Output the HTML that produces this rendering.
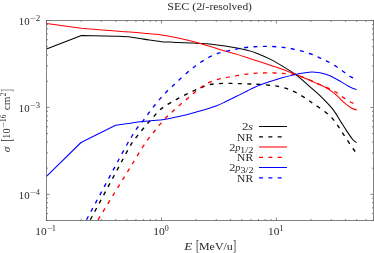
<!DOCTYPE html>
<html><head><meta charset="utf-8"><title>SEC</title>
<style>html,body{margin:0;padding:0;background:#fff;width:374px;height:253px;overflow:hidden;font-family:"Liberation Serif",serif}</style>
</head><body>
<svg width="374" height="253" viewBox="0 0 374 253" style="display:block;position:absolute;left:0;top:0">
<defs><clipPath id="clip"><rect x="46.5" y="20.5" width="327.0" height="200.0"/></clipPath></defs>
<rect x="0" y="0" width="374" height="253" fill="#fff"/>
<path d="M46.50,220.50L46.50,217.50M46.50,20.50L46.50,23.50M81.10,220.50L81.10,219.00M81.10,20.50L81.10,22.00M101.34,220.50L101.34,219.00M101.34,20.50L101.34,22.00M115.70,220.50L115.70,219.00M115.70,20.50L115.70,22.00M126.84,220.50L126.84,219.00M126.84,20.50L126.84,22.00M135.94,220.50L135.94,219.00M135.94,20.50L135.94,22.00M143.63,220.50L143.63,219.00M143.63,20.50L143.63,22.00M150.30,220.50L150.30,219.00M150.30,20.50L150.30,22.00M156.18,220.50L156.18,219.00M156.18,20.50L156.18,22.00M161.43,220.50L161.43,217.50M161.43,20.50L161.43,23.50M196.03,220.50L196.03,219.00M196.03,20.50L196.03,22.00M216.27,220.50L216.27,219.00M216.27,20.50L216.27,22.00M230.63,220.50L230.63,219.00M230.63,20.50L230.63,22.00M241.77,220.50L241.77,219.00M241.77,20.50L241.77,22.00M250.87,220.50L250.87,219.00M250.87,20.50L250.87,22.00M258.57,220.50L258.57,219.00M258.57,20.50L258.57,22.00M265.23,220.50L265.23,219.00M265.23,20.50L265.23,22.00M271.11,220.50L271.11,219.00M271.11,20.50L271.11,22.00M276.37,220.50L276.37,217.50M276.37,20.50L276.37,23.50M310.97,220.50L310.97,219.00M310.97,20.50L310.97,22.00M331.21,220.50L331.21,219.00M331.21,20.50L331.21,22.00M345.57,220.50L345.57,219.00M345.57,20.50L345.57,22.00M356.70,220.50L356.70,219.00M356.70,20.50L356.70,22.00M365.81,220.50L365.81,219.00M365.81,20.50L365.81,22.00M373.50,220.50L373.50,219.00M373.50,20.50L373.50,22.00M46.50,220.50L48.00,220.50M373.50,220.50L372.00,220.50M46.50,213.62L48.00,213.62M373.50,213.62L372.00,213.62M46.50,207.80L48.00,207.80M373.50,207.80L372.00,207.80M46.50,202.76L48.00,202.76M373.50,202.76L372.00,202.76M46.50,198.31L48.00,198.31M373.50,198.31L372.00,198.31M46.50,194.34L49.50,194.34M373.50,194.34L370.50,194.34M46.50,168.17L48.00,168.17M373.50,168.17L372.00,168.17M46.50,152.86L48.00,152.86M373.50,152.86L372.00,152.86M46.50,142.01L48.00,142.01M373.50,142.01L372.00,142.01M46.50,133.58L48.00,133.58M373.50,133.58L372.00,133.58M46.50,126.70L48.00,126.70M373.50,126.70L372.00,126.70M46.50,120.88L48.00,120.88M373.50,120.88L372.00,120.88M46.50,115.84L48.00,115.84M373.50,115.84L372.00,115.84M46.50,111.39L48.00,111.39M373.50,111.39L372.00,111.39M46.50,107.42L49.50,107.42M373.50,107.42L370.50,107.42M46.50,81.25L48.00,81.25M373.50,81.25L372.00,81.25M46.50,65.95L48.00,65.95M373.50,65.95L372.00,65.95M46.50,55.09L48.00,55.09M373.50,55.09L372.00,55.09M46.50,46.66L48.00,46.66M373.50,46.66L372.00,46.66M46.50,39.78L48.00,39.78M373.50,39.78L372.00,39.78M46.50,33.96L48.00,33.96M373.50,33.96L372.00,33.96M46.50,28.92L48.00,28.92M373.50,28.92L372.00,28.92M46.50,24.48L48.00,24.48M373.50,24.48L372.00,24.48M46.50,20.50L49.50,20.50M373.50,20.50L370.50,20.50" stroke="#333" stroke-width="0.6" fill="none"/>
<g clip-path="url(#clip)">
<path d="M46.50,48.90 L81.40,35.40 L116.00,36.20 C118.33,36.32 126.07,36.53 130.00,36.90 C133.93,37.27 136.38,37.87 139.60,38.40 C142.82,38.93 145.68,39.55 149.30,40.10 C152.92,40.65 157.83,41.37 161.30,41.70 C164.77,42.03 167.30,41.97 170.10,42.10 C172.90,42.23 174.78,42.37 178.10,42.50 C181.42,42.63 186.30,42.75 190.00,42.90 C193.70,43.05 196.07,43.10 200.30,43.40 C204.53,43.70 209.78,44.03 215.40,44.70 C221.02,45.37 228.90,46.52 234.00,47.40 C239.10,48.28 242.33,49.08 246.00,50.00 C249.67,50.92 251.65,51.22 256.00,52.90 C260.35,54.58 266.75,57.32 272.10,60.10 C277.45,62.88 284.22,67.25 288.10,69.60 C291.98,71.95 293.25,72.65 295.40,74.20 C297.55,75.75 299.07,77.23 301.00,78.90 C302.93,80.57 304.57,82.08 307.00,84.20 C309.43,86.32 312.88,89.17 315.60,91.60 C318.32,94.03 320.65,96.13 323.30,98.80 C325.95,101.47 329.30,104.97 331.50,107.60 C333.70,110.23 334.85,112.10 336.50,114.60 C338.15,117.10 339.65,119.80 341.40,122.60 C343.15,125.40 345.12,128.58 347.00,131.40 C348.88,134.22 351.10,137.63 352.70,139.50 C354.30,141.37 355.95,142.08 356.60,142.60" stroke="#000" stroke-width="1.05" fill="none" stroke-linejoin="round"/>
<path d="M90.30,219.80 L121.80,161.30 C123.32,158.52 128.45,148.65 130.90,144.60 C133.35,140.55 134.63,139.43 136.50,137.00 C138.37,134.57 140.15,132.37 142.10,130.00 C144.05,127.63 146.13,125.17 148.20,122.80 C150.27,120.43 152.52,117.97 154.50,115.80 C156.48,113.63 157.83,111.75 160.10,109.80 C162.37,107.85 165.43,105.80 168.10,104.10 C170.77,102.40 173.43,101.05 176.10,99.60 C178.77,98.15 181.30,96.80 184.10,95.40 C186.90,94.00 190.32,92.38 192.90,91.20 C195.48,90.02 197.08,89.35 199.60,88.30 C202.12,87.25 205.12,85.67 208.00,84.90 C210.88,84.13 213.55,83.95 216.90,83.70 C220.25,83.45 224.37,83.42 228.10,83.40 C231.83,83.38 235.57,83.50 239.30,83.60 C243.03,83.70 246.88,83.85 250.50,84.00 C254.12,84.15 257.07,84.22 261.00,84.50 C264.93,84.78 270.32,85.15 274.10,85.70 C277.88,86.25 280.63,86.93 283.70,87.80 C286.77,88.67 289.57,89.60 292.50,90.90 C295.43,92.20 298.62,94.03 301.30,95.60 C303.98,97.17 306.28,98.75 308.60,100.30 C310.92,101.85 312.53,103.03 315.20,104.90 C317.87,106.77 321.78,109.30 324.60,111.50 C327.42,113.70 330.00,115.88 332.10,118.10 C334.20,120.32 335.65,122.62 337.20,124.80 C338.75,126.98 339.77,128.72 341.40,131.20 C343.03,133.68 345.07,136.82 347.00,139.70 C348.93,142.58 351.38,146.20 353.00,148.50 C354.62,150.80 356.08,152.67 356.70,153.50" stroke="#000" stroke-width="1.35" fill="none" stroke-linejoin="round" stroke-dasharray="4 5.35"/>
<path d="M46.50,23.60 L81.20,28.30 C83.67,28.50 90.25,29.03 96.00,29.50 C101.75,29.97 110.03,30.67 115.70,31.10 C121.37,31.53 124.95,31.72 130.00,32.10 C135.05,32.48 140.78,32.93 146.00,33.40 C151.22,33.87 157.28,34.40 161.30,34.90 C165.32,35.40 167.30,35.88 170.10,36.40 C172.90,36.92 174.78,37.28 178.10,38.00 C181.42,38.72 186.15,39.73 190.00,40.70 C193.85,41.67 196.52,42.42 201.20,43.80 C205.88,45.18 212.63,47.37 218.10,49.00 C223.57,50.63 229.35,52.22 234.00,53.60 C238.65,54.98 241.82,55.98 246.00,57.30 C250.18,58.62 254.82,60.10 259.10,61.50 C263.38,62.90 267.50,64.30 271.70,65.70 C275.90,67.10 280.35,68.48 284.30,69.90 C288.25,71.32 291.22,72.50 295.40,74.20 C299.58,75.90 305.68,78.48 309.40,80.10 C313.12,81.72 315.05,82.70 317.70,83.90 C320.35,85.10 322.75,85.90 325.30,87.30 C327.85,88.70 330.88,90.75 333.00,92.30 C335.12,93.85 336.50,95.22 338.00,96.60 C339.50,97.98 340.50,99.22 342.00,100.60 C343.50,101.98 345.38,103.62 347.00,104.90 C348.62,106.18 350.07,107.47 351.70,108.30 C353.33,109.13 355.95,109.63 356.80,109.90" stroke="#f00" stroke-width="1.05" fill="none" stroke-linejoin="round"/>
<path d="M98.00,219.80 L133.20,162.50 C134.68,160.08 139.68,151.80 142.10,148.00 C144.52,144.20 145.83,142.27 147.70,139.70 C149.57,137.13 151.43,134.97 153.30,132.60 C155.17,130.23 156.88,127.90 158.90,125.50 C160.92,123.10 163.25,120.42 165.40,118.20 C167.55,115.98 169.62,114.22 171.80,112.20 C173.98,110.18 176.18,108.13 178.50,106.10 C180.82,104.07 183.30,102.03 185.70,100.00 C188.10,97.97 190.58,95.83 192.90,93.90 C195.22,91.97 197.08,90.23 199.60,88.40 C202.12,86.57 205.12,84.35 208.00,82.90 C210.88,81.45 213.95,80.58 216.90,79.70 C219.85,78.82 222.63,78.23 225.70,77.60 C228.77,76.97 232.10,76.45 235.30,75.90 C238.50,75.35 241.45,74.75 244.90,74.30 C248.35,73.85 251.48,73.43 256.00,73.20 C260.52,72.97 267.00,72.82 272.00,72.90 C277.00,72.98 281.87,73.33 286.00,73.70 C290.13,74.07 292.90,74.08 296.80,75.10 C300.70,76.12 305.53,78.23 309.40,79.80 C313.27,81.37 315.90,82.63 320.00,84.50 C324.10,86.37 330.43,89.05 334.00,91.00 C337.57,92.95 338.82,94.43 341.40,96.20 C343.98,97.97 346.97,100.17 349.50,101.60 C352.03,103.03 355.42,104.27 356.60,104.80" stroke="#f00" stroke-width="1.35" fill="none" stroke-linejoin="round" stroke-dasharray="4 5.35"/>
<path d="M46.50,176.30 L81.00,142.50 L115.60,125.20 L128.00,123.50 C130.35,123.18 138.00,122.08 142.10,121.60 C146.20,121.12 148.95,120.95 152.60,120.60 C156.25,120.25 159.43,120.23 164.00,119.50 C168.57,118.77 174.65,117.43 180.00,116.20 C185.35,114.97 191.60,113.30 196.10,112.10 C200.60,110.90 203.68,110.02 207.00,109.00 C210.32,107.98 213.17,107.08 216.00,106.00 C218.83,104.92 221.32,103.75 224.00,102.50 C226.68,101.25 229.43,99.82 232.10,98.50 C234.77,97.18 237.33,95.93 240.00,94.60 C242.67,93.27 244.77,92.08 248.10,90.50 C251.43,88.92 256.35,86.58 260.00,85.10 C263.65,83.62 266.32,82.82 270.00,81.60 C273.68,80.38 277.68,79.03 282.10,77.80 C286.52,76.57 292.68,75.03 296.50,74.20 C300.32,73.37 302.47,73.15 305.00,72.80 C307.53,72.45 309.53,72.15 311.70,72.10 C313.87,72.05 315.95,72.23 318.00,72.50 C320.05,72.77 322.00,73.15 324.00,73.70 C326.00,74.25 327.67,74.75 330.00,75.80 C332.33,76.85 335.32,78.48 338.00,80.00 C340.68,81.52 343.85,83.62 346.10,84.90 C348.35,86.18 349.75,86.93 351.50,87.70 C353.25,88.47 355.75,89.20 356.60,89.50" stroke="#00f" stroke-width="1.05" fill="none" stroke-linejoin="round"/>
<path d="M86.50,219.80 L117.90,161.30 C119.38,158.55 124.50,148.93 126.80,144.80 C129.10,140.67 130.08,139.15 131.70,136.50 C133.32,133.85 134.68,131.42 136.50,128.90 C138.32,126.38 140.75,123.78 142.60,121.40 C144.45,119.02 145.83,116.98 147.60,114.60 C149.37,112.22 151.32,109.52 153.20,107.10 C155.08,104.68 156.88,102.45 158.90,100.10 C160.92,97.75 163.10,95.28 165.30,93.00 C167.50,90.72 169.82,88.55 172.10,86.40 C174.38,84.25 175.75,83.02 179.00,80.10 C182.25,77.18 187.60,72.12 191.60,68.90 C195.60,65.68 198.85,63.30 203.00,60.80 C207.15,58.30 211.32,55.77 216.50,53.90 C221.68,52.03 229.18,50.67 234.10,49.60 C239.02,48.53 241.85,48.02 246.00,47.50 C250.15,46.98 254.67,46.67 259.00,46.50 C263.33,46.33 267.78,46.33 272.00,46.50 C276.22,46.67 280.17,46.95 284.30,47.50 C288.43,48.05 292.62,48.80 296.80,49.80 C300.98,50.80 305.73,52.23 309.40,53.50 C313.07,54.77 316.17,56.28 318.80,57.40 C321.43,58.52 322.52,58.83 325.20,60.20 C327.88,61.57 331.95,63.77 334.90,65.60 C337.85,67.43 340.37,69.40 342.90,71.20 C345.43,73.00 347.82,75.07 350.10,76.40 C352.38,77.73 355.52,78.73 356.60,79.20" stroke="#00f" stroke-width="1.35" fill="none" stroke-linejoin="round" stroke-dasharray="4 5.35"/>
</g>
<rect x="46.5" y="20.5" width="327.0" height="200.0" fill="none" stroke="#646464" stroke-width="0.8"/>
<path d="M259,126.5L287,126.5" stroke="#000" stroke-width="1.05" fill="none"/>
<path d="M259,136.8L287,136.8" stroke="#000" stroke-width="1.35" fill="none" stroke-dasharray="4 5.35"/>
<path d="M259,147.0L287,147.0" stroke="#f00" stroke-width="1.05" fill="none"/>
<path d="M259,157.3L287,157.3" stroke="#f00" stroke-width="1.35" fill="none" stroke-dasharray="4 5.35"/>
<path d="M259,167.5L287,167.5" stroke="#00f" stroke-width="1.05" fill="none"/>
<path d="M259,177.8L287,177.8" stroke="#00f" stroke-width="1.35" fill="none" stroke-dasharray="4 5.35"/>
<g id="txt" style="opacity:0.999">
<text transform="translate(167.20,10.00) scale(1.1371,1)" font-size="10.6" fill="#2a2a2a" style="font-family:'Liberation Serif',serif">SEC (2</text>
<text transform="translate(201.88,10.00) scale(0.9295,1)" font-size="10.6" font-style="italic" fill="#2a2a2a" style="font-family:'Liberation Serif',serif">l</text>
<text transform="translate(205.58,10.00) scale(1.0801,1)" font-size="10.6" fill="#2a2a2a" style="font-family:'Liberation Serif',serif">-resolved)</text>
<text transform="translate(18.77,24.80) scale(0.9424,1)" font-size="11.4" fill="#2a2a2a" style="font-family:'Liberation Serif',serif">10</text>
<text transform="translate(29.44,20.90) scale(1.5547,1)" font-size="7.3" fill="#2a2a2a" style="font-family:'Liberation Serif',serif">−</text>
<text transform="translate(35.81,20.90) scale(1.2267,1)" font-size="7.3" fill="#2a2a2a" style="font-family:'Liberation Serif',serif">2</text>
<text transform="translate(18.77,111.72) scale(0.9424,1)" font-size="11.4" fill="#2a2a2a" style="font-family:'Liberation Serif',serif">10</text>
<text transform="translate(29.44,107.82) scale(1.5547,1)" font-size="7.3" fill="#2a2a2a" style="font-family:'Liberation Serif',serif">−</text>
<text transform="translate(35.79,107.82) scale(1.1912,1)" font-size="7.3" fill="#2a2a2a" style="font-family:'Liberation Serif',serif">3</text>
<text transform="translate(18.77,198.64) scale(0.9424,1)" font-size="11.4" fill="#2a2a2a" style="font-family:'Liberation Serif',serif">10</text>
<text transform="translate(29.44,194.74) scale(1.5547,1)" font-size="7.3" fill="#2a2a2a" style="font-family:'Liberation Serif',serif">−</text>
<text transform="translate(36.05,194.74) scale(1.0583,1)" font-size="7.3" fill="#2a2a2a" style="font-family:'Liberation Serif',serif">4</text>
<text transform="translate(35.31,235.10) scale(1.0025,1)" font-size="11.4" fill="#2a2a2a" style="font-family:'Liberation Serif',serif">10</text>
<text transform="translate(46.80,231.00) scale(1.4080,1)" font-size="7.3" fill="#2a2a2a" style="font-family:'Liberation Serif',serif">−</text>
<text transform="translate(51.76,231.00) scale(1.1642,1)" font-size="7.3" fill="#2a2a2a" style="font-family:'Liberation Serif',serif">1</text>
<text transform="translate(153.33,235.10) scale(1.0125,1)" font-size="11.4" fill="#2a2a2a" style="font-family:'Liberation Serif',serif">10</text>
<text transform="translate(164.83,231.00) scale(1.0985,1)" font-size="7.3" fill="#2a2a2a" style="font-family:'Liberation Serif',serif">0</text>
<text transform="translate(267.97,235.10) scale(1.0025,1)" font-size="11.4" fill="#2a2a2a" style="font-family:'Liberation Serif',serif">10</text>
<text transform="translate(279.21,231.00) scale(1.2030,1)" font-size="7.3" fill="#2a2a2a" style="font-family:'Liberation Serif',serif">1</text>
<text transform="translate(184.16,249.50) scale(1.2434,1)" font-size="10.6" font-style="italic" fill="#2a2a2a" style="font-family:'Liberation Serif',serif">E</text>
<text transform="translate(196.10,250.20) scale(0.8884,1.28)" font-size="10.6" fill="#2a2a2a" style="font-family:'Liberation Serif',serif">[</text>
<text transform="translate(198.97,249.50) scale(1.1268,1)" font-size="10.6" fill="#2a2a2a" style="font-family:'Liberation Serif',serif">MeV/u</text>
<text transform="translate(232.96,250.20) scale(0.8884,1.28)" font-size="10.6" fill="#2a2a2a" style="font-family:'Liberation Serif',serif">]</text>
<text transform="translate(10.00,152.33) rotate(-90) scale(1.0651,1)" font-size="10.6" font-style="italic" fill="#2a2a2a" style="font-family:'Liberation Serif',serif">σ</text>
<text transform="translate(10.60,141.83) rotate(-90) scale(0.9307,1.3)" font-size="10.6" fill="#2a2a2a" style="font-family:'Liberation Serif',serif">[</text>
<text transform="translate(10.00,138.68) rotate(-90) scale(0.8922,1)" font-size="11.4" fill="#2a2a2a" style="font-family:'Liberation Serif',serif">10</text>
<text transform="translate(5.70,128.10) rotate(-90) scale(1.4080,1)" font-size="7.3" fill="#2a2a2a" style="font-family:'Liberation Serif',serif">−</text>
<text transform="translate(5.70,121.93) rotate(-90) scale(0.9918,1)" font-size="7.3" fill="#2a2a2a" style="font-family:'Liberation Serif',serif">16</text>
<text transform="translate(10.00,110.33) rotate(-90) scale(1.0572,1)" font-size="10.6" fill="#2a2a2a" style="font-family:'Liberation Serif',serif">cm</text>
<text transform="translate(5.70,96.32) rotate(-90) scale(1.0223,1)" font-size="7.3" fill="#2a2a2a" style="font-family:'Liberation Serif',serif">2</text>
<text transform="translate(10.60,91.87) rotate(-90) scale(0.7192,1.3)" font-size="10.6" fill="#2a2a2a" style="font-family:'Liberation Serif',serif">]</text>
<text transform="translate(241.94,130.00) scale(1.1347,1)" font-size="11.4" fill="#2a2a2a" style="font-family:'Liberation Serif',serif">2</text>
<text transform="translate(248.15,130.00) scale(1.1419,1)" font-size="10.6" font-style="italic" fill="#2a2a2a" style="font-family:'Liberation Serif',serif">s</text>
<text transform="translate(229.17,150.50) scale(1.0910,1)" font-size="11.4" fill="#2a2a2a" style="font-family:'Liberation Serif',serif">2</text>
<text transform="translate(235.21,150.50) scale(0.9808,1)" font-size="10.6" font-style="italic" fill="#2a2a2a" style="font-family:'Liberation Serif',serif">p</text>
<text transform="translate(240.08,152.90) scale(1.4470,1)" font-size="7.3" fill="#2a2a2a" style="font-family:'Liberation Serif',serif">1/2</text>
<text transform="translate(229.17,171.00) scale(1.0910,1)" font-size="11.4" fill="#2a2a2a" style="font-family:'Liberation Serif',serif">2</text>
<text transform="translate(235.21,171.00) scale(0.9808,1)" font-size="10.6" font-style="italic" fill="#2a2a2a" style="font-family:'Liberation Serif',serif">p</text>
<text transform="translate(240.52,173.40) scale(1.3978,1)" font-size="7.3" fill="#2a2a2a" style="font-family:'Liberation Serif',serif">3/2</text>
<text transform="translate(237.08,140.60) scale(1.0891,1)" font-size="10.6" fill="#2a2a2a" style="font-family:'Liberation Serif',serif">NR</text>
<text transform="translate(237.08,161.30) scale(1.0891,1)" font-size="10.6" fill="#2a2a2a" style="font-family:'Liberation Serif',serif">NR</text>
<text transform="translate(237.08,182.00) scale(1.0891,1)" font-size="10.6" fill="#2a2a2a" style="font-family:'Liberation Serif',serif">NR</text>
</g>
</svg>
</body></html>
